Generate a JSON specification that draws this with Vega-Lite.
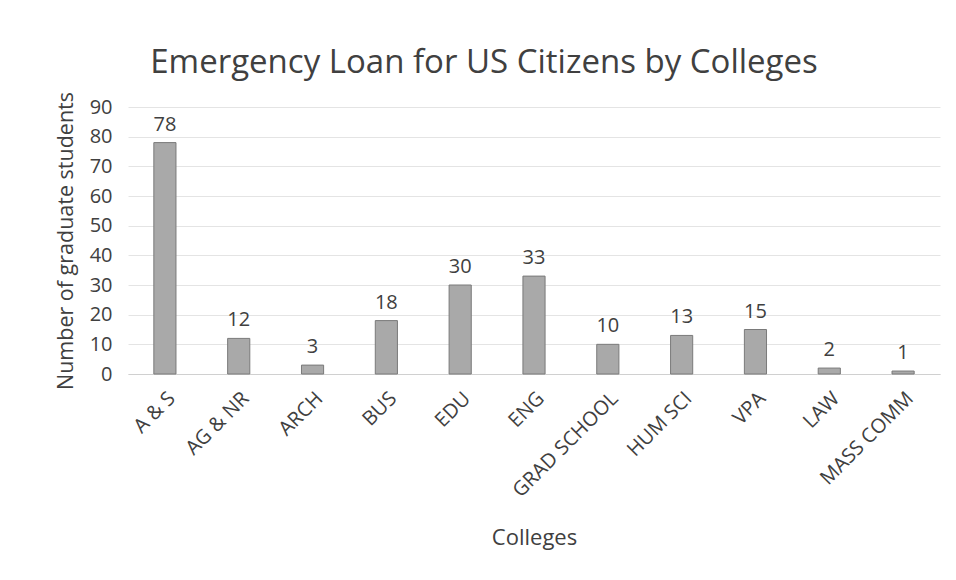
{
  "$schema": "https://vega.github.io/schema/vega-lite/v6.json",
  "width": 812,
  "height": 267,
  "autosize": {"type": "none"},
  "padding": {"left": 128, "top": 107, "right": 16, "bottom": 206},
  "background": "white",
  "config": {
    "font": "Open Sans",
    "view": {"stroke": null}
  },
  "title": {
    "text": "Emergency Loan for US Citizens by Colleges",
    "fontSize": 33,
    "fontWeight": "normal",
    "color": "#404040",
    "anchor": "middle",
    "dx": -50,
    "offset": 11
  },
  "data": {
    "values": [
      {"college": "A & S", "count": 78},
      {"college": "AG & NR", "count": 12},
      {"college": "ARCH", "count": 3},
      {"college": "BUS", "count": 18},
      {"college": "EDU", "count": 30},
      {"college": "ENG", "count": 33},
      {"college": "GRAD SCHOOL", "count": 10},
      {"college": "HUM SCI", "count": 13},
      {"college": "VPA", "count": 15},
      {"college": "LAW", "count": 2},
      {"college": "MASS COMM", "count": 1}
    ]
  },
  "encoding": {
    "x": {
      "field": "college",
      "type": "nominal",
      "sort": null,
      "scale": {"paddingInner": 0.7, "paddingOuter": 0.35},
      "axis": {
        "title": "Colleges",
        "titleFontSize": 22,
        "titleFontWeight": "normal",
        "titleColor": "#404040",
        "titlePadding": 27,
        "labelAngle": -45,
        "labelFontSize": 20,
        "labelColor": "#404040",
        "labelPadding": 14,
        "labelLimit": 300,
        "ticks": false,
        "domainColor": "#d0d0d0",
        "grid": false
      }
    },
    "y": {
      "field": "count",
      "type": "quantitative",
      "scale": {"domain": [0, 90]},
      "axis": {
        "title": "Number of graduate students",
        "titleFontSize": 21.5,
        "titleFontWeight": "normal",
        "titleColor": "#404040",
        "titlePadding": 12,
        "values": [0, 10, 20, 30, 40, 50, 60, 70, 80, 90],
        "labelFontSize": 20,
        "labelColor": "#404040",
        "labelPadding": 16,
        "ticks": false,
        "domain": false,
        "gridColor": "#e4e4e4"
      }
    }
  },
  "layer": [
    {
      "mark": {"type": "bar", "color": "#a9a9a9", "stroke": "#7a7a7a", "strokeWidth": 1}
    },
    {
      "mark": {"type": "text", "baseline": "bottom", "dy": -8, "fontSize": 20, "color": "#404040"},
      "encoding": {"text": {"field": "count", "type": "quantitative"}}
    }
  ]
}
